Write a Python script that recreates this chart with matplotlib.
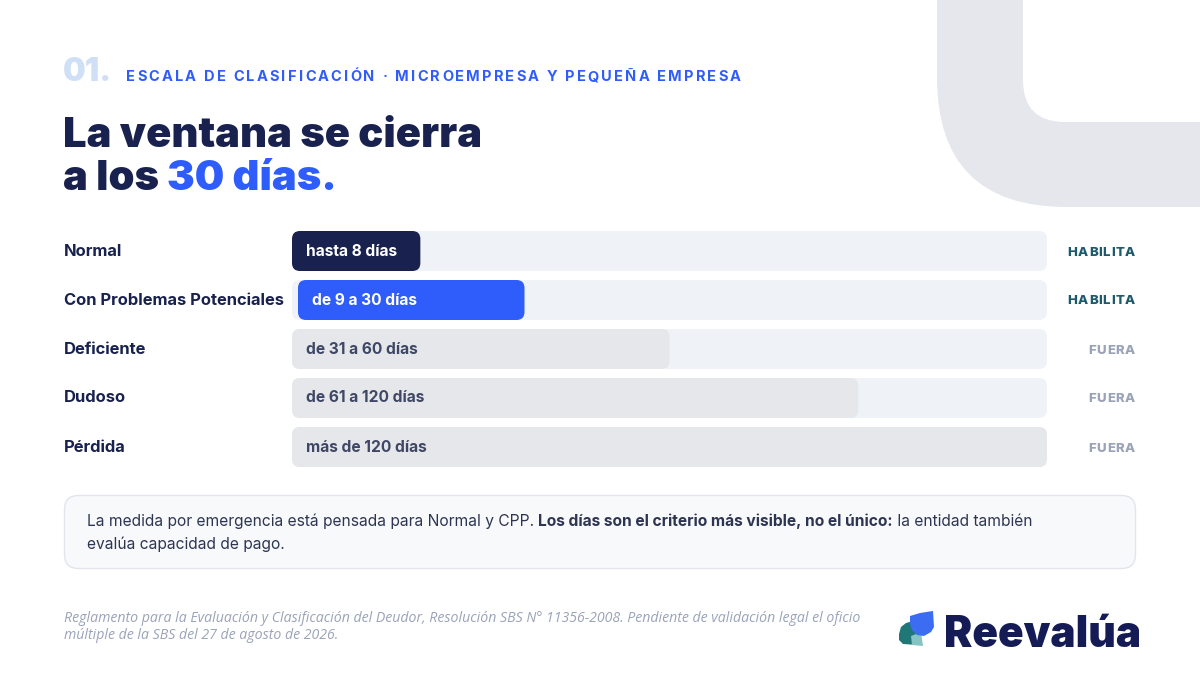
import matplotlib
matplotlib.use("Agg")
import matplotlib.pyplot as plt
from matplotlib.patches import FancyBboxPatch, Polygon
from matplotlib.transforms import blended_transform_factory

# ---------------- data ----------------
categories = ["Normal", "Con Problemas Potenciales", "Deficiente", "Dudoso", "Pérdida"]
ranges = ["hasta 8 días", "de 9 a 30 días", "de 31 a 60 días", "de 61 a 120 días", "más de 120 días"]
widths = [17, 30, 50, 75, 100]          # share of track (%)
status = ["HABILITA", "HABILITA", "FUERA", "FUERA", "FUERA"]
highlight = [False, True, False, False, False]

eyebrow_num = "01."
eyebrow = "ESCALA DE CLASIFICACIÓN · MICROEMPRESA Y PEQUEÑA EMPRESA"
title_l1 = "La ventana se cierra"
title_l2a = "a los "
title_l2b = "30 días."
note_l1 = ["La medida por emergencia está pensada para Normal y CPP. ",
           "Los días son el criterio más visible, no el único:",
           " la entidad también"]
note_l2 = "evalúa capacidad de pago."
foot_l1 = "Reglamento para la Evaluación y Clasificación del Deudor, Resolución SBS N° 11356-2008. Pendiente de validación legal el oficio"
foot_l2 = "múltiple de la SBS del 27 de agosto de 2026."
brand = "Reevalúa"

# ---------------- style ----------------
NAVY = "#19224F"
BLUE = "#2F5DFB"
TRACK = "#EFF2F7"
GRAYFILL = "#E5E7EB"
GRAYTXT = "#3F4764"
TEAL = "#1E5A69"
MUTED = "#9AA3B8"
FONT = "Inter"

plt.rcParams["font.family"] = [FONT, "DejaVu Sans"]

W, H = 1200, 675
fig = plt.figure(figsize=(12, 6.75), dpi=100)
fig.patch.set_facecolor("white")
bg = fig.add_axes([0, 0, 1, 1])
bg.set_xlim(0, W)
bg.set_ylim(H, 0)
bg.axis("off")
renderer = fig.canvas.get_renderer()

# decorative corner shape
outer = FancyBboxPatch((937, -400), 700, 607, boxstyle="round,pad=0,rounding_size=130",
                       fc="#E5E7EC", ec="none", zorder=0)
inner = FancyBboxPatch((1023, -400), 700, 522, boxstyle="round,pad=0,rounding_size=42",
                       fc="white", ec="none", zorder=0.1)
bg.add_patch(outer)
bg.add_patch(inner)


def text_w(s, **kw):
    t = bg.text(0, 0, s, **kw)
    w = t.get_window_extent(renderer).width
    t.remove()
    return w


def spaced(ax_x, y, s, target_w=None, spacing=1.0, ha="left", **kw):
    n = len(s)
    pos = []
    for i, ch in enumerate(s):
        if ch == " ":
            pos.append(None)
            continue
        pos.append(text_w(s[:i + 1], **kw) - text_w(ch, **kw))
    natural = text_w(s, **kw)
    if target_w is not None:
        spacing = (target_w - natural) / (n - 1)
    total = natural + spacing * (n - 1)
    x0 = ax_x if ha == "left" else ax_x - total
    for i, ch in enumerate(s):
        if pos[i] is None:
            continue
        bg.text(x0 + pos[i] + i * spacing, y, ch, ha="left", **kw)


# ---------------- header ----------------
bg.text(63, 81, eyebrow_num, fontsize=23, fontweight="black", color="#CFE0F6",
        va="baseline", ha="left")
spaced(126, 81, eyebrow, target_w=615, fontsize=10.5, fontweight="bold",
       color=BLUE, va="baseline")

TS = 30
bg.text(63, 147, title_l1, fontsize=TS, fontweight="black", color=NAVY,
        va="baseline", ha="left")
ta = bg.text(63, 190, title_l2a, fontsize=TS, fontweight="black", color=NAVY,
             va="baseline", ha="left")
wa = text_w(title_l2a + "|", fontsize=TS, fontweight="black") - text_w("|", fontsize=TS, fontweight="black")
bg.text(63 + wa, 190, title_l2b, fontsize=TS, fontweight="black", color=BLUE,
        va="baseline", ha="left")

# ---------------- bars ----------------
x0px, x1px = 292, 1047
row_top, row_h = 226.5, 49
n = len(categories)
ax = fig.add_axes([x0px / W, 1 - (row_top + n * row_h) / H,
                   (x1px - x0px) / W, n * row_h / H])
ax.set_xlim(0, 100)
ax.set_ylim(n - 0.5, -0.5)
ax.axis("off")
ax.patch.set_alpha(0)

px_x = 100 / (x1px - x0px)      # data units per px (x)
px_y = 1 / row_h                # data units per px (y)
bar_h = 40 * px_y
rad = 8 * px_x
masp = px_y / px_x
shift = 6 * px_x
pad = 14 * px_x

for i, (cat, rng, w, st, hl) in enumerate(zip(categories, ranges, widths, status, highlight)):
    ax.add_patch(FancyBboxPatch((0, i - bar_h / 2), 100, bar_h,
                                boxstyle=f"round,pad=0,rounding_size={rad}",
                                mutation_aspect=masp, fc=TRACK, ec="none", zorder=1))
    if i == 0:
        fc, tc = NAVY, "white"
    elif hl:
        fc, tc = BLUE, "white"
    else:
        fc, tc = GRAYFILL, GRAYTXT
    xs = shift if hl else 0
    ax.add_patch(FancyBboxPatch((xs, i - bar_h / 2), w, bar_h,
                                boxstyle=f"round,pad=0,rounding_size={rad}",
                                mutation_aspect=masp, fc=fc, ec="none", zorder=2))
    ax.text(xs + pad, i, rng, fontsize=11.2, fontweight="bold", color=tc,
            va="center", ha="left", zorder=3)

trans = blended_transform_factory(bg.transData, ax.transData)
for i, cat in enumerate(categories):
    fig.text(64, i, cat, transform=trans, fontsize=11.9, fontweight="bold",
             color=NAVY, va="center", ha="left")

# status labels (letter-spaced, right aligned)
for i, st in enumerate(status):
    ypx = row_top + (i + 0.5) * row_h + 1.5
    col = TEAL if st == "HABILITA" else MUTED
    spaced(1135, ypx, st, spacing=0.7, ha="right", fontsize=9.5, fontweight="heavy",
           color=col, va="center")

# ---------------- note box ----------------
bg.add_patch(FancyBboxPatch((64.5, 495.5), 1071, 73, boxstyle="round,pad=0,rounding_size=14",
                            fc="#F8F9FB", ec="#E2E5EB", lw=1.0, zorder=1))
NS = 11.2
xc = 87
for j, part in enumerate(note_l1):
    fw = "bold" if j == 1 else "normal"
    bg.text(xc, 526, part, fontsize=NS, fontweight=fw, color="#2D3552",
            va="baseline", ha="left", zorder=2)
    xc += text_w(part + "|", fontsize=NS, fontweight=fw) - text_w("|", fontsize=NS, fontweight=fw)
bg.text(87, 549, note_l2, fontsize=NS, color="#2D3552", va="baseline", ha="left", zorder=2)

# ---------------- footnote ----------------
for k, line in enumerate([foot_l1, foot_l2]):
    bg.text(64, 622 + k * 17, line, fontsize=10.15, style="italic", color=MUTED,
            family=["Open Sans", "DejaVu Sans"], va="baseline", ha="left")

# ---------------- logo ----------------
bg.add_patch(Polygon([(899, 634), (901, 627), (906, 623), (913, 621), (918, 623),
                      (918, 645), (903, 644), (899, 640)],
                     closed=True, fc="#1F7777", ec="none", zorder=2))
bg.add_patch(Polygon([(911, 636), (921, 632), (923, 646), (912, 645)],
                     closed=True, fc="#86C3C3", ec="none", zorder=3))
bg.add_patch(Polygon([(910, 616), (920, 613), (933, 611), (934, 627), (931, 632),
                      (924, 636), (917, 635), (912, 630), (910, 624)],
                     closed=True, fc="#3C6CF2", ec="none", zorder=4))
bg.text(944, 647, brand, fontsize=30.5, fontweight="black", color="#141B55",
        va="baseline", ha="left")

fig.savefig("out.png", dpi=100, facecolor="white")
